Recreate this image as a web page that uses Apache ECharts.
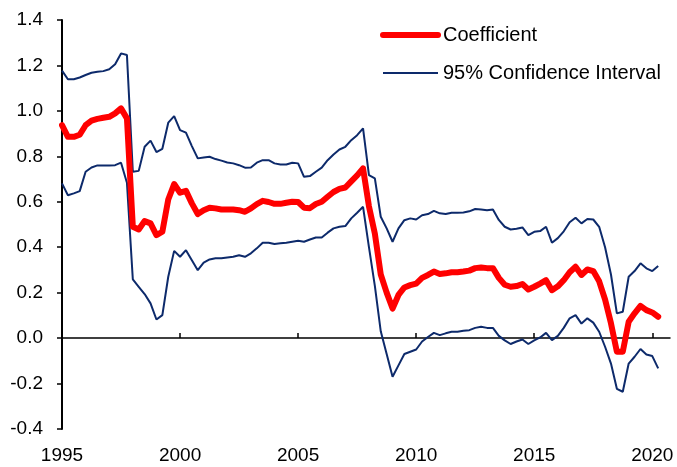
<!DOCTYPE html>
<html>
<head>
<meta charset="utf-8">
<script src="https://cdn.jsdelivr.net/npm/echarts@6/dist/echarts.min.js"></script>
<style>
  html, body { margin: 0; padding: 0; background: #fff; }
  #chart { width: 677px; height: 467px; }
</style>
</head>
<body>
<div id="chart"></div>
<script>
// quarterly estimates, 1995Q1 .. 2020Q2
const startYear = 1995;
const tickYears = [1995, 2000, 2005, 2010, 2015, 2020];

const coefficient = [
  0.937, 0.886, 0.886, 0.895, 0.937, 0.957, 0.965, 0.970, 0.974, 0.989,
  1.011, 0.967, 0.490, 0.478, 0.515, 0.505, 0.453, 0.468, 0.610, 0.678,
  0.640, 0.648, 0.593, 0.546, 0.563, 0.574, 0.571, 0.566, 0.566, 0.566,
  0.563, 0.556, 0.571, 0.590, 0.604, 0.599, 0.591, 0.591, 0.596, 0.600,
  0.599, 0.574, 0.572, 0.590, 0.600, 0.622, 0.643, 0.657, 0.663, 0.690,
  0.716, 0.747, 0.580, 0.460, 0.280, 0.200, 0.130, 0.190, 0.223, 0.233,
  0.240, 0.265, 0.278, 0.293, 0.282, 0.285, 0.290, 0.290, 0.293, 0.297,
  0.308, 0.311, 0.308, 0.308, 0.265, 0.235, 0.226, 0.229, 0.238, 0.214,
  0.226, 0.240, 0.255, 0.211, 0.228, 0.255, 0.290, 0.314, 0.278, 0.302,
  0.295, 0.250, 0.170, 0.065, -0.060, -0.060, 0.072, 0.109, 0.142, 0.123,
  0.113, 0.094
];

const upperCI = [
  1.177, 1.139, 1.139, 1.147, 1.158, 1.168, 1.172, 1.175, 1.183, 1.205,
  1.253, 1.246, 0.732, 0.736, 0.842, 0.869, 0.819, 0.833, 0.948, 0.977,
  0.915, 0.904, 0.845, 0.791, 0.795, 0.798, 0.788, 0.781, 0.773, 0.769,
  0.761, 0.750, 0.751, 0.772, 0.783, 0.783, 0.769, 0.764, 0.764, 0.772,
  0.769, 0.710, 0.713, 0.732, 0.750, 0.783, 0.808, 0.830, 0.842, 0.871,
  0.893, 0.923, 0.717, 0.703, 0.534, 0.483, 0.424, 0.483, 0.519, 0.527,
  0.522, 0.541, 0.546, 0.560, 0.549, 0.546, 0.552, 0.552, 0.553, 0.558,
  0.568, 0.566, 0.563, 0.566, 0.520, 0.490, 0.478, 0.481, 0.487, 0.453,
  0.468, 0.471, 0.490, 0.420, 0.440, 0.470, 0.510, 0.530, 0.505, 0.524,
  0.522, 0.490, 0.400, 0.280, 0.109, 0.116, 0.270, 0.295, 0.329, 0.307,
  0.295, 0.317
];

const lowerCI = [
  0.681, 0.629, 0.637, 0.647, 0.732, 0.751, 0.760, 0.760, 0.760, 0.761,
  0.772, 0.684, 0.258, 0.226, 0.194, 0.153, 0.082, 0.101, 0.270, 0.384,
  0.358, 0.387, 0.343, 0.299, 0.332, 0.346, 0.351, 0.351, 0.355, 0.358,
  0.365, 0.358, 0.373, 0.395, 0.420, 0.420, 0.414, 0.417, 0.420, 0.424,
  0.428, 0.424, 0.434, 0.443, 0.443, 0.464, 0.483, 0.490, 0.493, 0.527,
  0.552, 0.578, 0.400, 0.230, 0.030, -0.070, -0.170, -0.120, -0.070, -0.060,
  -0.050, -0.015, 0.005, 0.023, 0.013, 0.021, 0.028, 0.028, 0.032, 0.035,
  0.045, 0.050, 0.045, 0.045, 0.010, -0.010, -0.026, -0.015, -0.006, -0.026,
  -0.010, 0.003, 0.023, -0.009, 0.010, 0.045, 0.087, 0.101, 0.064, 0.087,
  0.068, 0.028, -0.038, -0.112, -0.223, -0.236, -0.112, -0.082, -0.048, -0.072,
  -0.079, -0.133
];

// pair each value with its quarter date
function toPoints(values) {
  return values.map((v, i) => [startYear + i * 0.25, v]);
}

const ciColor = '#0d2a6b';
const coefColor = '#ff0000';
const font = 'Arial, "Liberation Sans", sans-serif';

const chart = echarts.init(document.getElementById('chart'));
chart.setOption({
  animation: false,
  grid: { left: 62, right: 7, top: 20, bottom: 38, containLabel: false },
  legend: {
    orient: 'vertical',
    left: 375,
    top: 20,
    itemWidth: 55,
    itemHeight: 20,
    itemGap: 18,
    textStyle: { fontFamily: font, fontSize: 20, color: '#000' },
    data: [
      { name: 'Coefficient', itemStyle: { opacity: 0 }, lineStyle: { width: 6, color: coefColor, cap: 'round' } },
      { name: '95% Confidence Interval', itemStyle: { opacity: 0 }, lineStyle: { width: 2, color: ciColor } }
    ]
  },
  xAxis: [
    {
      type: 'value',
      min: 1995,
      max: 2020.75,
      interval: 5,
      position: 'bottom',
      axisLine: { onZero: true, lineStyle: { color: '#000', width: 1.5 } },
      axisTick: { inside: true, length: 5, customValues: tickYears, lineStyle: { color: '#000', width: 1.5 } },
      axisLabel: { show: false },
      splitLine: { show: false }
    },
    {
      type: 'value',
      min: 1995,
      max: 2020.75,
      interval: 5,
      position: 'bottom',
      axisLine: { show: false, onZero: false },
      axisTick: { show: false },
      axisLabel: {
        customValues: tickYears,
        margin: 17,
        fontFamily: font,
        fontSize: 19,
        color: '#000',
        formatter: v => String(v)
      },
      splitLine: { show: false }
    }
  ],
  yAxis: {
    type: 'value',
    min: -0.4,
    max: 1.4,
    interval: 0.2,
    axisLine: { show: true, onZero: false, lineStyle: { color: '#000', width: 2 } },
    axisTick: { show: true, length: 5, lineStyle: { color: '#000', width: 1.5 } },
    axisLabel: {
      margin: 19,
      fontFamily: font,
      fontSize: 19,
      color: '#000',
      formatter: v => v.toFixed(1)
    },
    splitLine: { show: false }
  },
  series: [
    {
      name: '95% Confidence Interval',
      type: 'line',
      symbol: 'none',
      data: toPoints(upperCI),
      lineStyle: { color: ciColor, width: 2 },
      itemStyle: { color: ciColor },
      z: 2
    },
    {
      name: '95% Confidence Interval',
      type: 'line',
      symbol: 'none',
      data: toPoints(lowerCI),
      lineStyle: { color: ciColor, width: 2 },
      itemStyle: { color: ciColor },
      z: 2
    },
    {
      name: 'Coefficient',
      type: 'line',
      symbol: 'none',
      data: toPoints(coefficient),
      lineStyle: { color: coefColor, width: 6, cap: 'round', join: 'round' },
      itemStyle: { color: coefColor },
      z: 3
    }
  ]
});
</script>
</body>
</html>
